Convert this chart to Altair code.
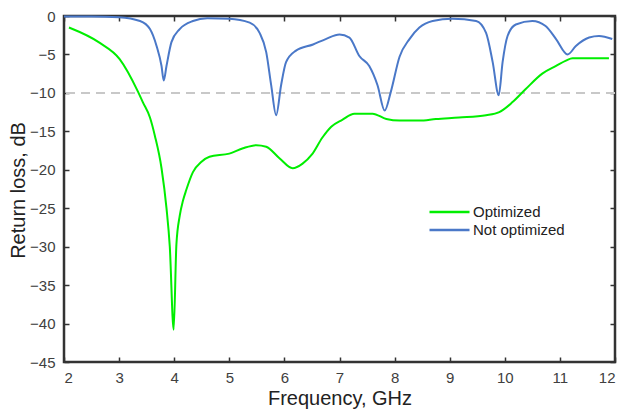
import altair as alt
import pandas as pd

opt_f = [2.09, 2.65, 3.01, 3.34, 3.43, 3.56, 3.65, 3.77, 3.86, 3.92, 3.99, 4.04, 4.10, 4.16,
         4.22, 4.34, 4.49, 4.64, 5.00, 5.25, 5.49, 5.67, 5.91, 6.15, 6.33, 6.50, 6.69, 6.85,
         7.05, 7.27, 7.60, 7.85, 8.09, 8.45, 8.75, 9.17, 9.66, 9.90, 10.14, 10.38, 10.68,
         10.93, 11.11, 11.23, 11.89]
opt_db = [-1.5, -3.5, -5.6, -9.8, -11.2, -13.2, -15.6, -19.8, -25.0, -30.0, -40.8, -29.7,
          -26.0, -24.0, -22.6, -20.3, -19.0, -18.3, -17.9, -17.2, -16.8, -17.0, -18.5, -19.8,
          -19.2, -18.0, -15.8, -14.4, -13.5, -12.7, -12.7, -13.4, -13.6, -13.6, -13.4, -13.2,
          -12.9, -12.5, -11.2, -9.5, -7.5, -6.5, -5.8, -5.5, -5.5]

nopt_f = [2.00, 2.50, 3.00, 3.38, 3.56, 3.68, 3.77, 3.81, 3.86, 3.95, 4.10, 4.34, 4.60, 5.00,
          5.37, 5.55, 5.67, 5.76, 5.85, 5.94, 6.03, 6.21, 6.52, 6.75, 7.00, 7.18, 7.36, 7.54,
          7.69, 7.82, 7.93, 8.09, 8.27, 8.45, 8.69, 9.05, 9.48, 9.66, 9.78, 9.89, 9.96, 10.05,
          10.20, 10.50, 10.74, 10.93, 11.14, 11.29, 11.53, 11.71, 11.95]
nopt_db = [-0.05, -0.05, -0.15, -0.65, -1.7, -3.9, -6.5, -8.4, -6.5, -3.4, -1.7, -0.65, -0.3,
           -0.35, -0.87, -2.2, -4.7, -9.0, -12.9, -9.0, -6.0, -4.5, -3.7, -3.0, -2.4, -2.8,
           -5.2, -6.5, -9.0, -12.3, -9.9, -5.3, -3.0, -1.5, -0.65, -0.35, -0.65, -2.2, -6.0,
           -10.3, -6.0, -2.6, -1.1, -0.65, -1.3, -3.0, -5.0, -3.9, -2.8, -2.6, -3.0]

series_names = ["Optimized", "Not optimized"]
series_colors = ["#00ee00", "#4a78c8"]
x_ticks = list(range(2, 13))
y_ticks = list(range(-45, 1, 5))
ref_level = [-10]

rows = [{"f": f, "db": d, "s": series_names[0]} for f, d in zip(opt_f, opt_db)]
rows += [{"f": f, "db": d, "s": series_names[1]} for f, d in zip(nopt_f, nopt_db)]
df = pd.DataFrame(rows)

FONT = "Liberation Sans"
xs = alt.Scale(domain=[2, 12], nice=False, zero=False)
ys = alt.Scale(domain=[-45, 0], nice=False, zero=False)

lines = alt.Chart(df).mark_line(strokeWidth=2, interpolate="monotone").encode(
    x=alt.X("f:Q", scale=xs, axis=alt.Axis(
        title="Frequency, GHz", values=x_ticks, domain=False, grid=False,
        tickSize=5, offset=-5, tickColor="#333333", tickWidth=1.5,
        labelPadding=8, labelFontSize=15, labelColor="#404040", labelFont=FONT,
        titleFont=FONT, titleFontSize=20, titleFontWeight="normal", titleColor="#222222",
        titlePadding=3)),
    y=alt.Y("db:Q", scale=ys, axis=alt.Axis(
        title="Return loss, dB", values=y_ticks, domain=False, grid=False,
        tickSize=5, offset=-5, tickColor="#333333", tickWidth=1.5,
        labelPadding=9, labelFontSize=15, labelColor="#404040", labelFont=FONT,
        titleFont=FONT, titleFontSize=20, titleFontWeight="normal", titleColor="#222222",
        titleX=-51, titleY=174, titleAlign="center", titleBaseline="middle", titleAngle=270)),
    color=alt.Color("s:N", scale=alt.Scale(domain=series_names, range=series_colors),
                    legend=alt.Legend(title=None, orient="none", legendX=364, legendY=187,
                                      symbolType="stroke", symbolSize=1600, symbolStrokeWidth=2.5,
                                      clipHeight=18, rowPadding=0,
                                      labelFont=FONT, labelFontSize=15, labelColor="#222222",
                                      labelOffset=2)),
    order=alt.Order("f:Q"),
)

ref = alt.Chart(pd.DataFrame({"v": ref_level})).mark_rule(
    strokeDash=[9, 6], color="#c8c8c8", strokeWidth=2
).encode(y=alt.Y("v:Q", scale=ys, axis=None))

frame_top = alt.Chart(pd.DataFrame({"t": x_ticks})).mark_point(opacity=0).encode(
    x=alt.X("t:Q", scale=xs, axis=alt.Axis(
        orient="top", values=x_ticks, labels=False, title=None, domain=False, grid=False,
        tickSize=5, offset=-5, tickColor="#333333", tickWidth=1.5)),
)
frame_right = alt.Chart(pd.DataFrame({"t": y_ticks})).mark_point(opacity=0).encode(
    y=alt.Y("t:Q", scale=ys, axis=alt.Axis(
        orient="right", values=y_ticks, labels=False, title=None, domain=False, grid=False,
        tickSize=5, offset=-5, tickColor="#333333", tickWidth=1.5)),
)

chart = alt.layer(ref, lines, frame_top, frame_right).resolve_axis(
    x="independent", y="independent"
).properties(
    width=551, height=346, autosize="none",
    padding={"left": 56, "top": 8, "right": 3, "bottom": 50},
).configure_view(stroke="#333333", strokeWidth=2.5)

chart.save("out.html", embed_options={"renderer": "svg", "actions": False})
